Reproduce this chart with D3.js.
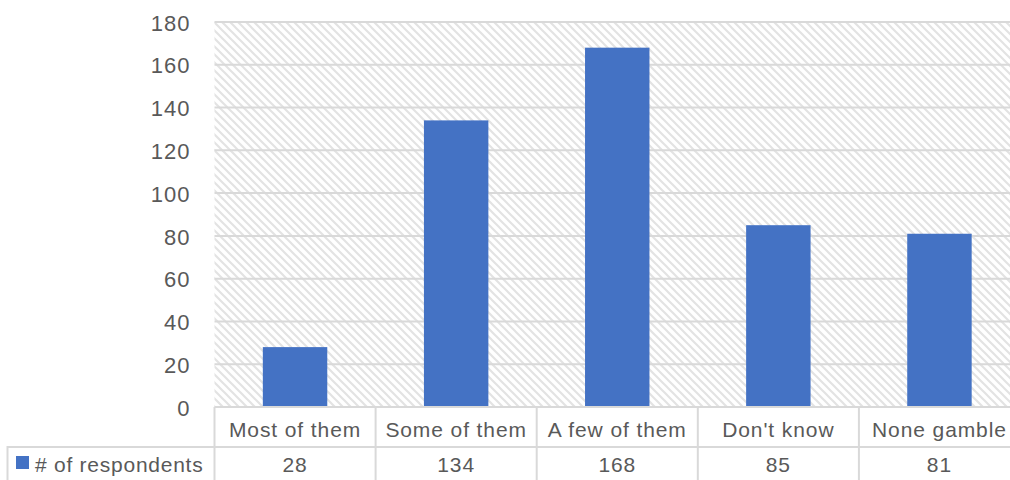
<!DOCTYPE html>
<html><head><meta charset="utf-8">
<script src="https://cdn.jsdelivr.net/npm/d3@7"></script>
<style>body{margin:0;background:#fff}svg{display:block}</style>
</head><body>
<svg id="c" width="1010" height="480"></svg>
<script>
const categories = ["Most of them","Some of them","A few of them","Don't know","None gamble"];
const seriesName = "# of respondents";
const values = [28,134,168,85,81];
const yTicks = [0,20,40,60,80,100,120,140,160,180];

const svg = d3.select("#c");
const font = "'Liberation Sans', Arial, sans-serif";
const textCol = "#595959", gridCol = "#d9d9d9", barCol = "#4472c4";
const L = 214.5, R = 1020, T = 22, B = 407, row1 = 447;

const x = d3.scaleBand().domain(categories).range([L, R]).paddingInner(0.6).paddingOuter(0.3);
const y = d3.scaleLinear().domain([0,180]).range([B, T]);

const defs = svg.append("defs");
const pat = defs.append("pattern").attr("id","hatch").attr("patternUnits","userSpaceOnUse")
  .attr("width",8).attr("height",8);
pat.append("path").attr("d","M0,0 L8,8 M-4,4 L4,12 M4,-4 L12,4")
  .attr("stroke","#e3e3e3").attr("stroke-width",2.2).attr("fill","none");

svg.append("rect").attr("x",L).attr("y",T).attr("width",R-L).attr("height",B-T).attr("fill","url(#hatch)");

// gridlines
svg.append("g").selectAll("line").data(yTicks.filter(d=>d>0)).join("line")
  .attr("x1",L).attr("x2",R).attr("y1",d=>y(d)).attr("y2",d=>y(d))
  .attr("stroke",gridCol).attr("stroke-width",2);

// y axis via d3
const yAxis = d3.axisLeft(y).tickValues(yTicks).tickSize(0).tickPadding(24);
const ya = svg.append("g").attr("transform",`translate(${L},0)`).call(yAxis);
ya.select(".domain").remove();
ya.selectAll("text").attr("font-family",font).attr("font-size",22).attr("fill",textCol)
  .attr("letter-spacing","1px").attr("dy","0.37em");

// bars
svg.append("g").selectAll("rect").data(values).join("rect")
  .attr("x",(d,i)=>x(categories[i])).attr("width",x.bandwidth())
  .attr("y",d=>y(d)).attr("height",d=>y(0)-y(d)).attr("fill",barCol);

// data table
const step = x.step();
const tg = svg.append("g").attr("stroke",gridCol).attr("stroke-width",2);
tg.append("line").attr("x1",L).attr("x2",R).attr("y1",B).attr("y2",B);
tg.append("line").attr("x1",7.5).attr("x2",R).attr("y1",row1).attr("y2",row1);
tg.append("line").attr("x1",7.5).attr("x2",7.5).attr("y1",row1-1).attr("y2",482);
categories.forEach((c,i)=>{
  tg.append("line").attr("x1",L+i*step).attr("x2",L+i*step).attr("y1",B).attr("y2",482);
});

const tx = svg.append("g").attr("font-family",font).attr("font-size",21).attr("fill",textCol)
  .attr("text-anchor","middle").attr("letter-spacing","0.9px");
tx.selectAll("text.cat").data(categories).join("text").attr("class","cat")
  .attr("x",d=>x(d)+x.bandwidth()/2).attr("y",430).attr("dy","0.35em").text(d=>d);
tx.selectAll("text.val").data(values).join("text").attr("class","val")
  .attr("x",(d,i)=>x(categories[i])+x.bandwidth()/2).attr("y",465).attr("dy","0.35em").text(d=>d);

// legend key
svg.append("rect").attr("x",16).attr("y",456).attr("width",13).attr("height",13).attr("fill",barCol);
svg.append("text").attr("x",35).attr("y",465).attr("dy","0.35em").attr("font-family",font)
  .attr("font-size",21).attr("fill",textCol).attr("letter-spacing","0.75px").text(seriesName);
</script>
</body></html>
